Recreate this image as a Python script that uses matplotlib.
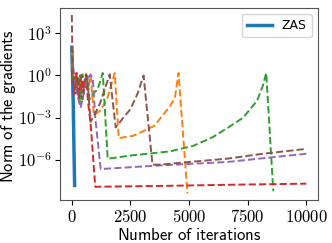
import numpy as np
import matplotlib.pyplot as plt
from matplotlib.ticker import FuncFormatter, NullLocator

plt.rcParams["mathtext.fontset"] = "cm"

# ZAS (solid)
zas_x = [0, 20, 40, 60, 80, 100, 120]
zas_y = [1e2, 5, 0.3, 1e-2, 1e-4, 1e-6, 1.5e-8]

# dashed comparison runs
orange_x = [0, 40, 100, 200, 300, 400, 500, 600, 700, 800, 940, 1200, 1500, 1830,
            2000, 2600, 3000, 3500, 3800, 4200, 4400, 4550, 4930]
orange_y = [50, 2, 0.3, 1.5, 0.01, 0.8, 0.05, 1.2, 0.1, 1.0, 1.5e-3, 3e-3, 0.02, 1.5,
            3.5e-5, 5e-5, 1e-4, 2.5e-4, 1e-3, 7e-3, 0.03, 1.5, 4e-9]

green_x = [0, 50, 150, 250, 350, 450, 550, 650, 750, 900, 1100, 1320, 1530,
           2500, 4200, 5190, 6000, 6630, 7310, 7900, 8150, 8290, 8590]
green_y = [30, 1, 0.1, 1, 0.01, 1.2, 0.1, 1, 0.02, 0.05, 0.1, 1.5, 1.2e-6,
           2e-6, 4e-6, 1e-5, 4e-5, 1.8e-4, 1e-3, 0.016, 0.2, 1.5, 6e-9]

red_x = [0, 50, 120, 200, 300, 400, 500, 600, 700, 800, 1000, 4000, 7000, 10000]
red_y = [20, 1, 0.05, 1.5, 0.02, 1, 0.05, 1.2, 0.01, 4e-4, 1.2e-8, 1.4e-8, 1.7e-8, 2e-8]

purple_x = [0, 80, 200, 380, 500, 650, 800, 900, 1000, 1230, 3780, 6630, 10000]
purple_y = [20, 2, 0.1, 5e-3, 0.05, 0.5, 1.2, 0.5, 1e-3, 2.2e-7, 4e-7, 7e-7, 2.7e-6]

brown_x = [0, 30, 80, 150, 250, 350, 450, 550, 650, 800, 1000, 1200, 1400, 1615,
           1870, 2200, 2500, 2800, 3060, 3440, 3780, 5000, 6630, 8000, 10000]
brown_y = [2e4, 3, 0.5, 0.8, 0.05, 1, 0.02, 0.5, 1, 5e-4, 2e-3, 0.01, 0.1, 1.2,
           2e-4, 1e-3, 4e-3, 0.05, 1, 4.5e-7, 4.5e-7, 7e-7, 1.2e-6, 2.5e-6, 6e-6]

fig = plt.figure(figsize=(3.32, 2.43), dpi=100)
ax = fig.add_axes([0.181, 0.177, 0.777, 0.79])

ax.plot(zas_x, zas_y, color="C0", lw=2.5, label="ZAS")
ax.plot(orange_x, orange_y, color="C1", ls="--", lw=1.4)
ax.plot(green_x, green_y, color="C2", ls="--", lw=1.4)
ax.plot(red_x, red_y, color="C3", ls="--", lw=1.4)
ax.plot(purple_x, purple_y, color="C4", ls="--", lw=1.4)
ax.plot(brown_x, brown_y, color="C5", ls="--", lw=1.4)

ax.set_yscale("log")
ax.set_yticks([1e-6, 1e-3, 1, 1e3])
ax.yaxis.set_minor_locator(NullLocator())
ax.yaxis.set_major_formatter(
    FuncFormatter(lambda v, p: f"$10^{{{int(round(np.log10(v)))}}}$"))
ax.set_ylim(10**-8.86, 10**4.8)
ax.set_xticks([0, 2500, 5000, 7500, 10000])
ax.xaxis.set_major_formatter(FuncFormatter(lambda v, p: f"${v:.0f}$"))
ax.tick_params(labelsize=12, pad=2.5)
for s in ax.spines.values():
    s.set_color("#555555")

ax.set_xlabel(r"$\mathsf{Number\ of\ iterations}$", fontsize=12, labelpad=0)
ax.set_ylabel(r"$\mathsf{Norm\ of\ the\ gradients}$", fontsize=12)
ax.yaxis.set_label_coords(-0.165, 0.49)
ax.legend(loc="upper right", fontsize=9)

fig.savefig("out.png", dpi=100)
